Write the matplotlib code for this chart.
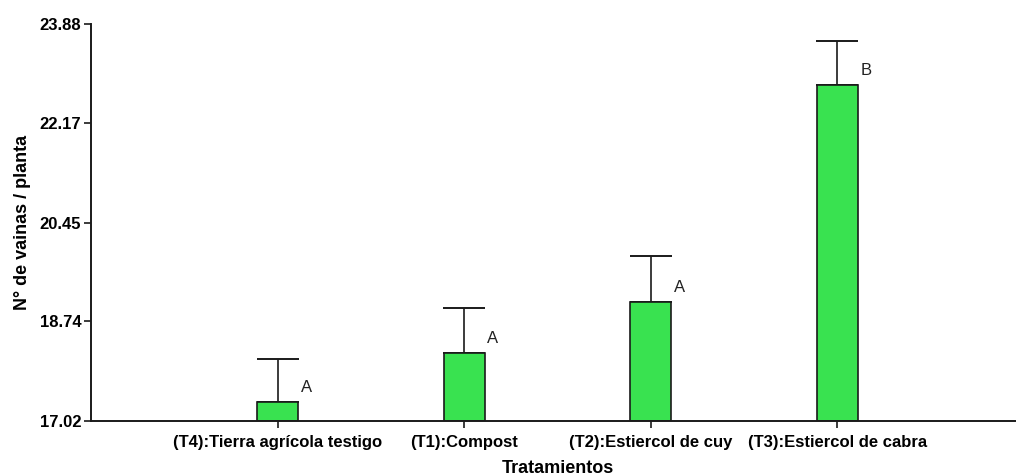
import matplotlib
matplotlib.use("Agg")
import matplotlib.pyplot as plt

tratamientos = ["(T4):Tierra agrícola testigo", "(T1):Compost",
                "(T2):Estiercol de cuy", "(T3):Estiercol de cabra"]
medias = [17.35, 18.19, 19.08, 22.83]
error_sup = [0.75, 0.78, 0.79, 0.75]
letras = ["A", "A", "A", "B"]
yticks = [17.02, 18.74, 20.45, 22.17, 23.88]

plt.rcParams["font.family"] = ["Liberation Sans", "DejaVu Sans"]

fig = plt.figure(figsize=(10.16, 4.76), dpi=100)
ax = fig.add_axes([0.0896, 0.1155, 0.918, 0.834])

pos = list(range(1, len(medias) + 1))
ax.bar(pos, [m - yticks[0] for m in medias], bottom=yticks[0], width=0.22,
       color="#39e250", edgecolor="#1a1a1a", linewidth=1.2, zorder=2)
ax.errorbar(pos, medias, yerr=[[0] * len(medias), error_sup], fmt="none",
            ecolor="#1a1a1a", elinewidth=1.2, capsize=15, capthick=1.4, zorder=1)

for x, m, l in zip(pos, medias, letras):
    ax.text(x + 0.155, m + 0.12, l, fontsize=12,
            color="#222222", ha="center", va="bottom")

ax.set_xlim(0, 5)
ax.set_ylim(yticks[0], yticks[-1])
ax.set_yticks(yticks)
ax.set_yticklabels([f"{v:.2f}" for v in yticks])
ax.set_xticks(pos)
ax.set_xticklabels(tratamientos)

for s in ["top", "right"]:
    ax.spines[s].set_visible(False)
for s in ["left", "bottom"]:
    ax.spines[s].set_linewidth(1.4)
    ax.spines[s].set_color("#1a1a1a")

ax.tick_params(axis="both", direction="out", length=5, width=1.2,
               color="#1a1a1a", labelsize=12)
ax.tick_params(axis="x", pad=5)
ax.tick_params(axis="y", pad=2)
for lab in ax.get_xticklabels() + ax.get_yticklabels():
    lab.set_fontweight("bold")

ax.set_xlabel("Tratamientos", fontsize=13, fontweight="bold", labelpad=7)
ax.set_ylabel("N° de vainas / planta", fontsize=13, fontweight="bold", labelpad=6)

fig.savefig("out.png", dpi=100)
